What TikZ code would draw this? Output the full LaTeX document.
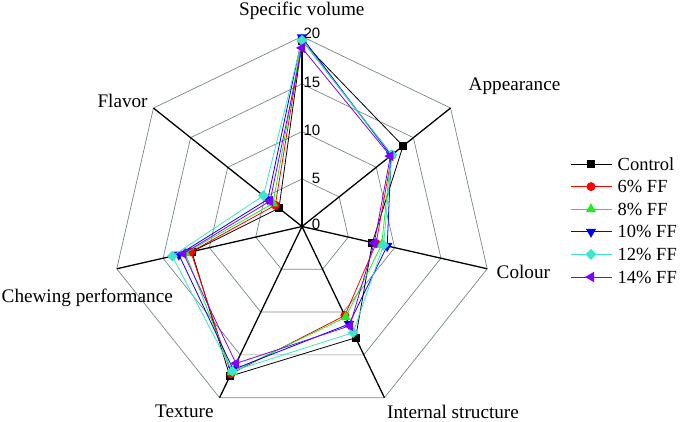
\documentclass[tikz,border=0pt]{standalone}
\usepackage{fontspec}
\setmainfont{Liberation Serif}
\newfontfamily\numfont{Liberation Sans}
\usetikzlibrary{shapes.geometric}
\definecolor{gridc}{RGB}{120,135,140}
\definecolor{ffred}{RGB}{255,0,0}
\definecolor{ffgreen}{RGB}{30,240,30}
\definecolor{ffblue}{RGB}{0,0,255}
\definecolor{ffcyan}{RGB}{60,230,200}
\definecolor{ffpurple}{RGB}{128,0,255}
\tikzset{
 lbl/.style={font=\fontsize{19.2}{21}\selectfont, inner sep=0pt, anchor=base west},
 tick/.style={font=\numfont\fontsize{15}{16}\selectfont, inner sep=0pt, anchor=east},
 ring/.style={draw=gridc, line width=0.7pt},
 axisline/.style={draw=black, line width=1.3pt},
 series/.style={line width=0.8pt},
 legtext/.style={font=\fontsize{18.5}{20}\selectfont, inner sep=0pt, anchor=west},
 msq/.style={rectangle, minimum size=8pt, inner sep=0pt},
 mci/.style={circle, minimum size=9pt, inner sep=0pt},
 mtu/.style={regular polygon, regular polygon sides=3, minimum size=12pt, inner sep=0pt},
 mtd/.style={regular polygon, regular polygon sides=3, shape border rotate=180, minimum size=12pt, inner sep=0pt},
 mdi/.style={diamond, minimum size=11pt, inner sep=0pt},
 mtl/.style={regular polygon, regular polygon sides=3, shape border rotate=90, minimum size=12pt, inner sep=0pt},
}
\begin{document}
\begin{tikzpicture}[x=1pt,y=1pt]
\useasboundingbox (0,0) rectangle (682,-421);
\begin{scope}[shift={(302,-226.5)}]
 \coordinate (O) at (0,0);
 % rings
 \foreach \r in {1,...,4}{
   \draw[ring] (90:{\r*47.5}) \foreach \k in {1,...,6}{ -- ({90-\k*360/7}:{\r*47.5}) } -- cycle;
 }
 % axes
 \foreach \k in {0,...,6}{
   \coordinate (v\k) at ({90-\k*360/7}:190);
   \draw[axisline] (O) -- (v\k);
 }
 % tick labels
 \node[tick] (t0) at (18.5,2) {0};
 \node[tick] (t5) at (18.5,48.5) {5};
 \node[tick] (t10) at (18.5,96) {10};
 \node[tick] (t15) at (18.5,144) {15};
 \node[tick] (t20) at (18.5,193) {20};
 % series
 \foreach \vals/\col/\shp [count=\s] in {
   {19.5,13.6,7.6,13.0,17.5,11.9,3.1}/black/msq,
   {19.6,12.1,8.0,10.4,17.2,12.0,3.6}/ffred/mci,
   {19.7,12.0,8.6,10.6,17.0,12.6,3.9}/ffgreen/mtu,
   {19.9,12.0,9.2,11.4,16.7,13.3,4.6}/ffblue/mtd,
   {19.6,12.1,8.8,12.4,16.9,14.0,5.2}/ffcyan/mdi,
   {18.8,11.9,7.8,11.6,16.0,12.8,4.3}/ffpurple/mtl}{
   \foreach \v [count=\k from 0] in \vals {
     \coordinate (p\s-\k) at ({90-\k*360/7}:{\v*9.5});
   }
   \draw[series, draw=\col] (p\s-0) -- (p\s-1) -- (p\s-2) -- (p\s-3) -- (p\s-4) -- (p\s-5) -- (p\s-6) -- cycle;
   \foreach \k in {0,...,6}{
     \node[\shp, fill=\col] (m\s-\k) at (p\s-\k) {};
   }
 }
\end{scope}
% axis labels
\node[lbl] (lsv) at (239,-15) {Specific volume};
\node[lbl] (lap) at (468.5,-90.7) {Appearance};
\node[lbl] (lco) at (496.5,-278.3) {Colour};
\node[lbl] (lin) at (387,-418) {Internal structure};
\node[lbl] (ltx) at (155,-417.5) {Texture};
\node[lbl] (lch) at (1.5,-302.7) {Chewing performance};
\node[lbl] (lfl) at (97.3,-107.3) {Flavor};
% legend
\foreach \col/\shp/\txt/\y [count=\i] in {
  black/msq/Control/164,
  ffred/mci/6\% FF/186.6,
  ffgreen/mtu/8\% FF/209.2,
  ffblue/mtd/10\% FF/231.8,
  ffcyan/mdi/12\% FF/254.4,
  ffpurple/mtl/14\% FF/277}{
  \coordinate (la\i) at (571,-\y);
  \coordinate (lb\i) at (612,-\y);
  \draw[series, draw=\col] (la\i) -- (lb\i);
  \node[\shp, fill=\col] (lm\i) at (591,-\y) {};
  \node[legtext] (lt\i) at (617.5,-\y) {\txt};
}
\end{tikzpicture}
\end{document}
